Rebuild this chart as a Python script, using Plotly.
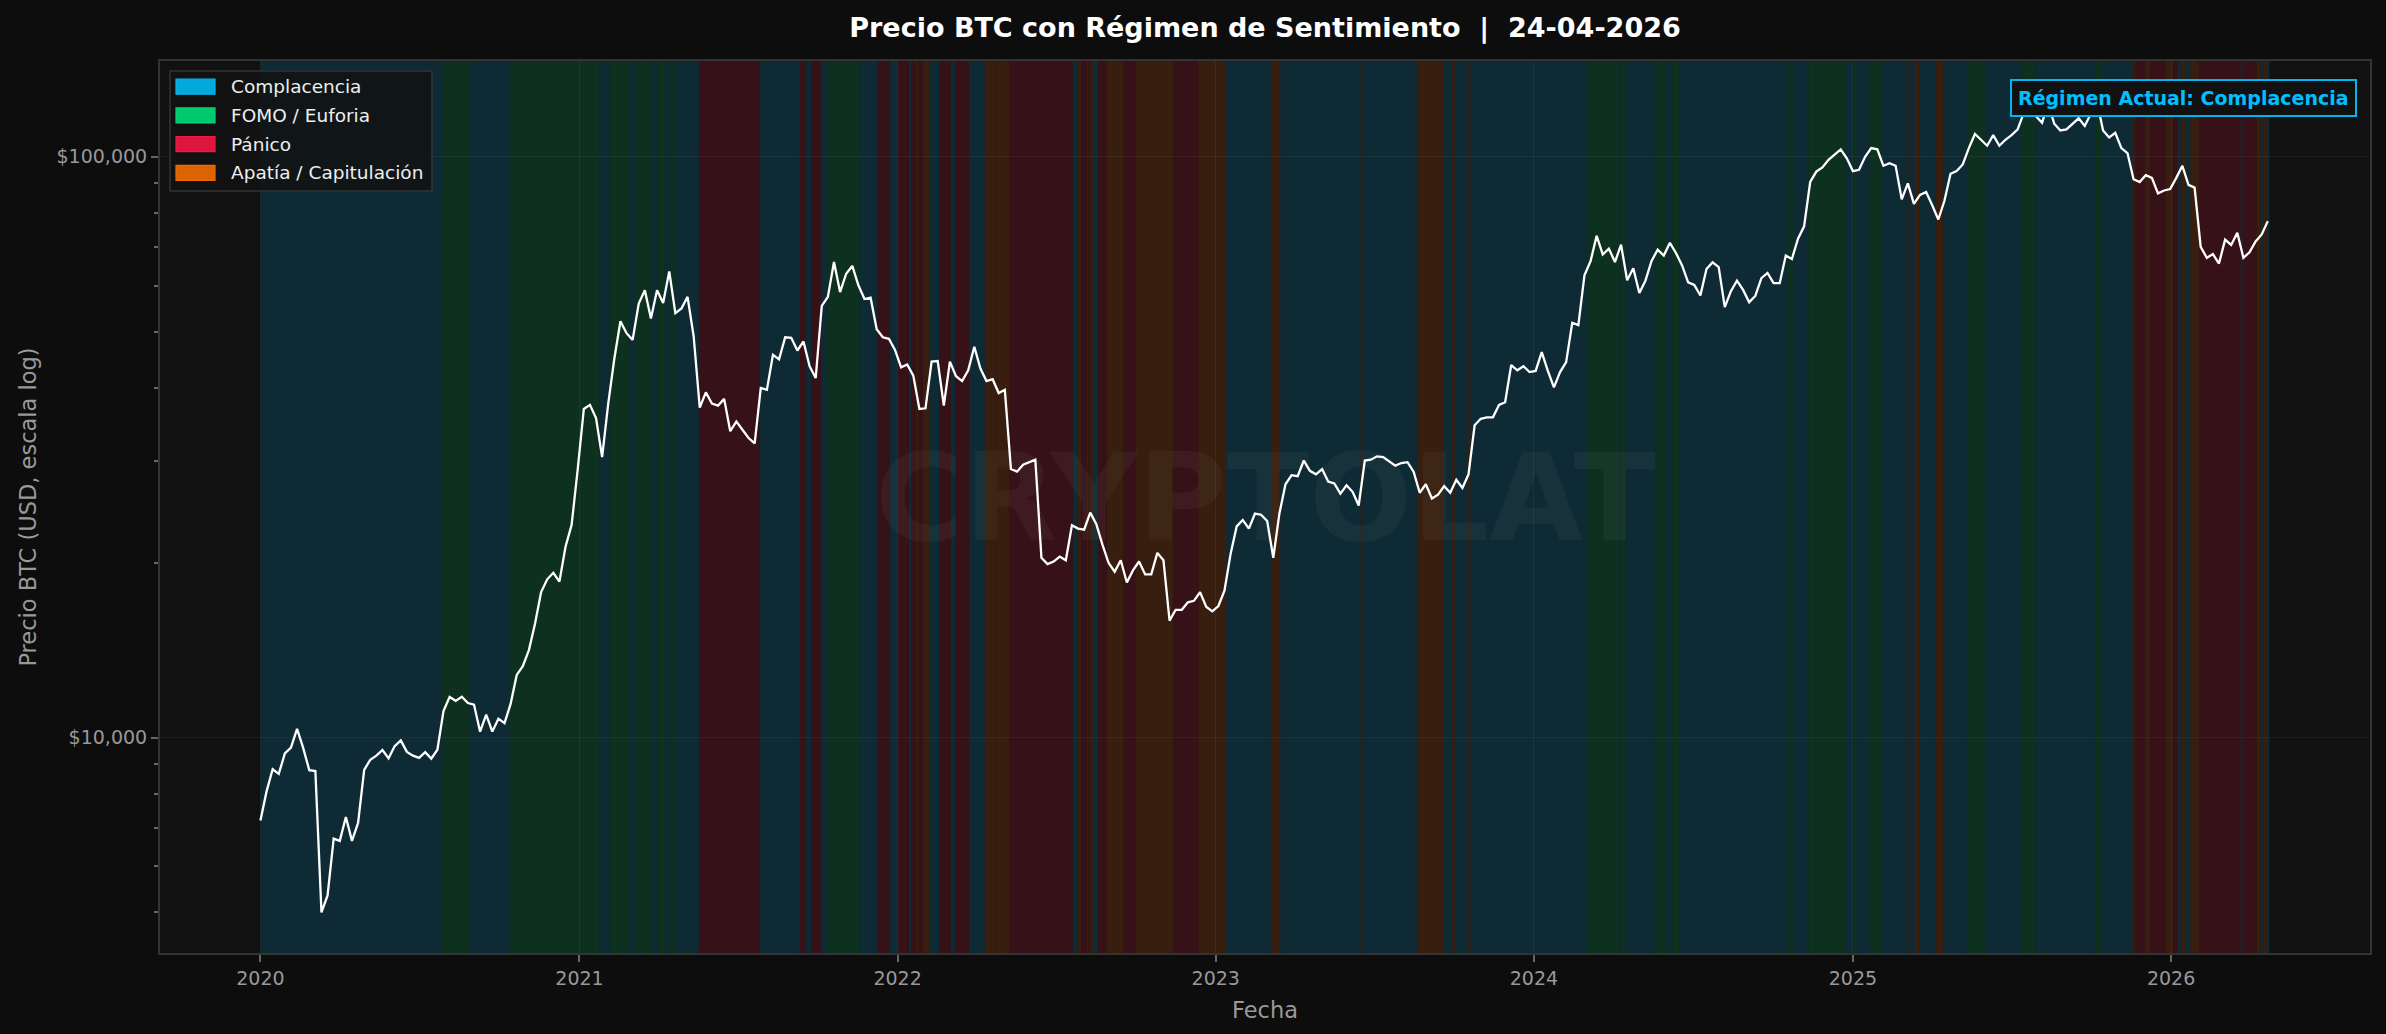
import numpy as np
import pandas as pd
import plotly.graph_objects as go

# --- datos ---
# cierre semanal BTC (USD), un valor cada 7 días desde 2020-01-01
btc_2020 = [7200, 8080, 8820, 8660, 9390, 9610, 10350, 9600, 8790, 8760, 5000, 5350, 6700,
            6640, 7300, 6640, 7130, 8800, 9160, 9310, 9520, 9210, 9670, 9890, 9450, 9310,
            9230, 9440, 9200, 9530, 11110, 11750, 11570, 11760, 11470, 11400, 10240, 10950,
            10240, 10780, 10590, 11430, 12820, 13270, 14150, 15700, 17810, 18730, 19220,
            18560, 21310, 23240, 28990]
btc_2021 = [36800, 37400, 35500, 30400, 37600, 44900, 52100, 49700, 48400, 55900, 58900,
            52700, 58900, 56000, 63500, 53800, 54800, 57400, 49100, 37000, 39300, 37600,
            37300, 38300, 33700, 35000, 33900, 32800, 32100, 40000, 39700, 45600, 44800,
            48900, 48800, 46400, 48100, 43600, 41600, 55400, 57400, 65900, 58500, 62900,
            64900, 60100, 56900, 57200, 50500, 48900, 48600, 46500]
btc_2022 = [43400, 43900, 42000, 36800, 36900, 44400, 44500, 37300, 44400, 41900, 41100,
            42900, 47100, 43200, 41100, 41400, 39200, 39700, 29000, 28700, 29500, 29800,
            30100, 20400, 19900, 20100, 20500, 20200, 23200, 22900, 22800, 24400, 23300,
            21500, 20000, 19300, 20200, 18500, 19400, 20100, 19100, 19100, 20800, 20200,
            15900, 16600, 16600, 17100, 17200, 17800, 16800, 16500]
btc_2023 = [16850, 17900, 20700, 23100, 23700, 22900, 24300, 24200, 23600, 20400, 24300,
            27300, 28300, 28200, 30000, 28800, 28400, 29000, 27600, 27400, 26300, 27200,
            26500, 25100, 30000, 30100, 30500, 30400, 29900, 29400, 29700, 29800, 28700,
            26400, 27300, 25800, 26200, 27100, 26400, 27800, 26900, 28400, 34500, 35400,
            35600, 35600, 37400, 37800, 43800, 42900, 43600, 42600]
btc_2024 = [42800, 46100, 42800, 40100, 42600, 44300, 51800, 51300, 62500, 66100, 73100,
            67900, 69500, 65900, 70600, 61300, 64300, 58300, 61200, 66200, 69200, 67600,
            71100, 68300, 65000, 60800, 60200, 57700, 64100, 65800, 64600, 55100, 58700,
            61200, 59000, 56200, 57600, 61800, 63100, 60600, 60600, 67600, 66700, 72300,
            75900, 90500, 94300, 95900, 98800, 101000, 103000, 99400]
btc_2025 = [94500, 95000, 100000, 103500, 103000, 96500, 97500, 96500, 84500, 90000, 83000,
            86000, 87000, 82500, 78000, 84000, 93500, 94500, 97000, 103500, 109500, 107000,
            104500, 109000, 104500, 107000, 109000, 111500, 119000, 118500, 117500, 114500,
            123500, 114000, 111000, 111500, 114000, 116500, 113000, 118500, 124500, 111000,
            108000, 110000, 103500, 101500, 91500, 90500, 93000, 92000, 86500, 87500, 88000]
btc_2026 = [92000, 96500, 89500, 88500, 70000, 67000, 68000, 65500, 72000, 70500, 74000,
            67000, 68500, 71500, 73500, 77500]

btc_close = btc_2020 + btc_2021 + btc_2022 + btc_2023 + btc_2024 + btc_2025 + btc_2026
fechas = pd.date_range("2020-01-01", periods=len(btc_close), freq="7D")

# regímenes de sentimiento: fecha de inicio y tipo (C, F, P, A); cada tramo acaba donde empieza el siguiente
regimen_inicio = [
    "2020-01-01", "2020-07-28", "2020-08-28", "2020-10-13", "2021-01-24", "2021-02-05",
    "2021-02-28", "2021-03-06", "2021-03-24", "2021-04-01", "2021-04-09", "2021-04-15",
    "2021-04-21", "2021-05-18", "2021-07-27", "2021-09-11", "2021-09-18", "2021-09-24",
    "2021-10-05", "2021-10-13", "2021-11-18", "2021-12-09", "2021-12-23", "2022-01-01",
    "2022-01-14", "2022-01-17", "2022-01-22", "2022-01-25", "2022-01-30", "2022-02-07",
    "2022-02-18", "2022-03-03", "2022-03-08", "2022-03-24", "2022-04-11", "2022-04-25",
    "2022-04-26", "2022-05-09", "2022-07-21", "2022-07-26", "2022-07-31", "2022-08-06",
    "2022-08-08", "2022-08-10", "2022-08-13", "2022-08-19", "2022-08-29", "2022-09-17",
    "2022-10-01", "2022-11-13", "2022-12-12", "2023-01-13", "2023-03-06", "2023-03-16",
    "2023-06-16", "2023-06-18", "2023-08-20", "2023-09-19", "2023-09-28", "2023-10-02",
    "2023-10-17", "2023-10-20", "2024-03-03", "2024-04-08", "2024-04-10", "2024-04-16",
    "2024-05-19", "2024-06-01", "2024-06-07", "2024-06-16", "2024-10-18", "2024-10-25",
    "2024-11-11", "2024-12-23", "2025-01-02", "2025-01-05", "2025-01-20", "2025-02-03",
    "2025-03-04", "2025-03-06", "2025-03-13", "2025-03-18", "2025-04-06", "2025-04-15",
    "2025-05-12", "2025-06-02", "2025-07-14", "2025-07-29", "2025-10-06", "2025-10-13",
    "2025-11-18", "2025-11-21", "2025-12-02", "2025-12-08", "2025-12-26", "2026-01-03",
    "2026-01-08", "2026-01-12", "2026-01-18", "2026-01-23", "2026-02-02", "2026-03-22",
    "2026-03-24", "2026-04-09", "2026-04-14", "2026-04-17", "2026-04-21",
]
regimen_tipo = [
    "C", "F", "C", "F", "C", "F",
    "C", "F", "C", "F", "C", "F",
    "C", "P", "C", "P", "C", "P",
    "C", "F", "C", "P", "C", "P",
    "C", "P", "A", "P", "A", "C",
    "P", "C", "P", "C", "A", "C",
    "A", "P", "C", "A", "P", "A",
    "P", "A", "C", "P", "A", "P",
    "A", "P", "A", "C", "A", "C",
    "A", "C", "A", "C", "A", "C",
    "A", "C", "F", "C", "F", "C",
    "F", "C", "F", "C", "F", "C",
    "F", "C", "F", "C", "F", "C",
    "A", "C", "A", "C", "A", "C",
    "F", "C", "F", "C", "F", "C",
    "A", "P", "A", "P", "A", "P",
    "C", "A", "C", "A", "P", "C",
    "P", "A", "C", "A", "C",
]
regimen_fin = "2026-04-24"

regimen_nombre = {"C": "Complacencia", "F": "FOMO / Euforia", "P": "Pánico", "A": "Apatía / Capitulación"}
orden_leyenda = ["C", "F", "P", "A"]

# --- estilo ---
banda_color = {"C": "rgba(0,191,255,0.15)", "F": "rgba(0,225,110,0.15)",
               "P": "rgba(255,20,60,0.16)", "A": "rgba(255,100,0,0.16)"}
parche_color = {"C": "#03a9db", "F": "#00c86e", "P": "#dc163c", "A": "#dc6400"}
parche_borde = {"C": "#00b8f0", "F": "#00d878", "P": "#f01a44", "A": "#f06c00"}

W, H = 2386, 1034
ML, MR, MT, MB = 160, 16, 61, 81
FONT = "DejaVu Sans"


def px_x(px):
    return (px - ML) / (W - ML - MR)


def px_y(py):
    return (H - MB - py) / (H - MT - MB)


fig = go.Figure()

# bandas de régimen
fines = regimen_inicio[1:] + [regimen_fin]
for x0, x1, r in zip(regimen_inicio, fines, regimen_tipo):
    fig.add_vrect(x0=x0, x1=x1, fillcolor=banda_color[r], line_width=0, layer="below")

# precio
fig.add_trace(go.Scatter(x=fechas, y=btc_close, mode="lines",
                         line=dict(color="white", width=2.3), showlegend=False,
                         hoverinfo="skip"))

# rangos con margen del 5% (estilo matplotlib)
t0 = pd.Timestamp(regimen_inicio[0])
t1 = pd.Timestamp(regimen_fin)
dt = (t1 - t0) * 0.05
lo, hi = np.log10(min(btc_close)), np.log10(max(btc_close))
pad = (hi - lo) * 0.05

# marca de agua
fig.add_annotation(x=0.5, y=0.51, xref="paper", yref="paper", text="<b>CRYPTOLAT</b>",
                   showarrow=False, font=dict(family=FONT, size=121, color="rgba(255,255,255,0.04)"))

# leyenda dibujada a mano (parches rectangulares)
fig.add_shape(type="rect", xref="paper", yref="paper",
              x0=px_x(170), x1=px_x(432), y0=px_y(191), y1=px_y(71),
              fillcolor="rgba(17,17,17,0.8)", line=dict(color="#333333", width=1.5))
for i, r in enumerate(orden_leyenda):
    yc = 86.7 + i * 28.7
    fig.add_shape(type="rect", xref="paper", yref="paper",
                  x0=px_x(176), x1=px_x(215), y0=px_y(yc + 7.5), y1=px_y(yc - 7.5),
                  fillcolor=parche_color[r], line=dict(color=parche_borde[r], width=1.2))
    fig.add_annotation(x=px_x(229), y=px_y(yc), xref="paper", yref="paper",
                       text=regimen_nombre[r], showarrow=False, xanchor="left", yanchor="middle",
                       font=dict(family=FONT, size=18.5, color="#eeeeee"))

# régimen actual
actual = regimen_nombre[regimen_tipo[-1]]
fig.add_annotation(x=px_x(2357), y=px_y(98.5), xref="paper", yref="paper",
                   text="<b>Régimen Actual: " + actual + "</b>", showarrow=False,
                   xanchor="right", yanchor="middle",
                   font=dict(family=FONT, size=19, color="#00bfff"),
                   bgcolor="#111111", bordercolor="#00b4f0", borderwidth=2, borderpad=6)

fig.update_layout(
    width=W, height=H,
    paper_bgcolor="#0d0d0d", plot_bgcolor="#111111",
    margin=dict(l=ML, r=MR, t=MT, b=MB),
    font=dict(family=FONT, color="#999999"),
    title=dict(text="<b>Precio BTC con Régimen de Sentimiento  |  24-04-2026</b>",
               x=0.5, xref="paper", xanchor="center",
               y=1 - 28 / H, yref="container", yanchor="middle",
               font=dict(family=FONT, size=27, color="white")),
    showlegend=False,
)

fig.update_xaxes(
    type="date", range=[t0 - dt, t1 + dt],
    tick0="2020-01-01", dtick="M12", tickformat="%Y",
    showgrid=True, gridcolor="rgba(255,255,255,0.05)", gridwidth=1,
    showline=True, mirror=True, linecolor="#333333", linewidth=2,
    ticks="outside", ticklen=7, tickcolor="#666666", tickwidth=1.5,
    tickfont=dict(size=19, color="#999999"),
    title=dict(text="Fecha", font=dict(size=22.5, color="#999999"), standoff=14),
    zeroline=False,
)
fig.update_yaxes(
    type="log", range=[lo - pad, hi + pad],
    tickvals=[1e4, 1e5], ticktext=["$10,000", "$100,000"],
    showgrid=True, gridcolor="rgba(255,255,255,0.05)", gridwidth=1,
    showline=True, mirror=True, linecolor="#333333", linewidth=2,
    ticks="outside", ticklen=7, tickcolor="#666666", tickwidth=1.5,
    tickfont=dict(size=19, color="#999999"),
    minor=dict(ticks="outside", ticklen=4, tickcolor="#666666", showgrid=False,
               tickvals=[5000, 6000, 7000, 8000, 9000, 20000, 30000, 40000, 50000,
                         60000, 70000, 80000, 90000]),
    title=dict(text="Precio BTC (USD, escala log)", font=dict(size=22.5, color="#999999"), standoff=14),
    zeroline=False,
)

fig.write_html("out.html", config={"displayModeBar": False},
               post_script="document.body.style.margin='0';document.body.style.background='#0d0d0d';")
